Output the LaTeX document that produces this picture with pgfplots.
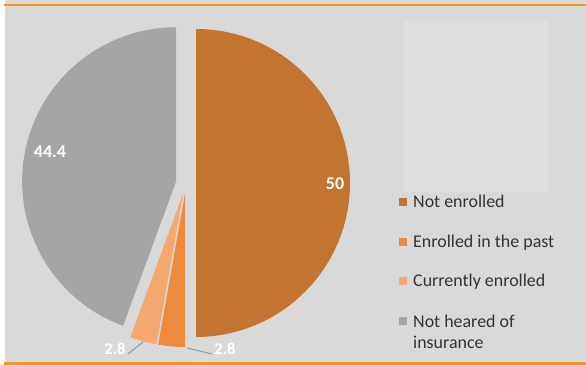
\documentclass[border=0pt]{standalone}
\usepackage{fontspec}
\setmainfont{Carlito}
\usepackage{pgfplots}
\usepackage{pgfplotstable}
\pgfplotsset{compat=1.18}
\usetikzlibrary{calc}
\pgfkeys{/pgf/number format/assume math mode=true}
\definecolor{bg}{HTML}{D9D9D9}
\definecolor{bgl}{HTML}{DEDEDE}
\definecolor{frame}{HTML}{F5931E}
\definecolor{notenr}{HTML}{C47431}
\definecolor{past}{HTML}{EC8B3D}
\definecolor{curr}{HTML}{F4A76F}
\definecolor{notheard}{HTML}{A5A5A5}
\definecolor{leader}{HTML}{8090A6}
\definecolor{txt}{HTML}{333333}

\pgfplotstableread{
label value
NotEnrolled 50
Past 2.8
Current 2.8
NotHeard 44.4
}\piedata

\pgfplotstablegetelem{0}{value}\of\piedata \let\vA\pgfplotsretval
\pgfplotstablegetelem{1}{value}\of\piedata \let\vB\pgfplotsretval
\pgfplotstablegetelem{2}{value}\of\piedata \let\vC\pgfplotsretval
\pgfplotstablegetelem{3}{value}\of\piedata \let\vD\pgfplotsretval
\pgfmathsetmacro\aA{90}
\pgfmathsetmacro\aB{\aA-3.6*\vA}
\pgfmathsetmacro\aC{\aB-3.6*\vB}
\pgfmathsetmacro\aD{\aC-3.6*\vC}
\pgfmathsetmacro\aE{\aD-3.6*\vD}

\newcommand{\slice}[3]{%
  \fill[#3] ($(axis cs:186,183)+({(#1+#2)/2}:10bp)$) -- ++(#1:154bp)
    arc[start angle=#1, end angle=#2, radius=154bp] -- cycle;}

\begin{document}
\begin{tikzpicture}
\begin{axis}[
  width=586bp, height=365bp, scale only axis,
  xmin=0, xmax=586, ymin=0, ymax=365, y dir=reverse,
  axis lines=none, clip=false,
  /pgf/number format/assume math mode=true,
]
% background
\fill[white] (axis cs:0,0) rectangle (axis cs:586,365);
\fill[bg] (axis cs:5,0) rectangle (axis cs:586,365);
\fill[bgl] (axis cs:404,21) rectangle (axis cs:548,192);
\fill[frame] (axis cs:4,4) rectangle (axis cs:586,6.5);
\fill[frame] (axis cs:4,362) rectangle (axis cs:586,364.5);
% pie
\slice{\aA}{\aB}{notenr}
\slice{\aB}{\aC}{past}
\slice{\aC}{\aD}{curr}
\slice{\aD}{\aE}{notheard}
% data labels
\draw[leader, line width=0.8bp] (axis cs:128,354) -- (axis cs:143,342);
\draw[leader, line width=0.8bp] (axis cs:187,348) -- (axis cs:212,354);
\node[white, font=\fontsize{18}{21}\selectfont\bfseries] at (axis cs:335,184) {\pgfmathprintnumber[assume math mode=true]{\vA}};
\node[white, font=\fontsize{18}{21}\selectfont\bfseries] at (axis cs:50,152) {\pgfmathprintnumber[assume math mode=true]{\vD}};
\node[white, font=\fontsize{16.5}{20}\selectfont\bfseries] at (axis cs:115,349) {\pgfmathprintnumber[assume math mode=true]{\vC}};
\node[white, font=\fontsize{16.5}{20}\selectfont\bfseries] at (axis cs:225,349) {\pgfmathprintnumber[assume math mode=true]{\vB}};
% legend
\fill[notenr] (axis cs:399,198) rectangle (axis cs:407,206);
\fill[past] (axis cs:399,238) rectangle (axis cs:407,246);
\fill[curr] (axis cs:399,277) rectangle (axis cs:407,285);
\fill[notheard] (axis cs:399,317) rectangle (axis cs:407,325);
\begin{scope}[every node/.style={anchor=base west, inner sep=0pt, text=txt, font=\fontsize{18}{21}\selectfont}]
\node at (axis cs:413,207) {Not enrolled};
\node at (axis cs:413,247) {Enrolled in the past};
\node at (axis cs:413,286) {Currently enrolled};
\node at (axis cs:413,327) {Not heared of};
\node at (axis cs:413,348) {insurance};
\end{scope}
\end{axis}
\end{tikzpicture}
\end{document}
